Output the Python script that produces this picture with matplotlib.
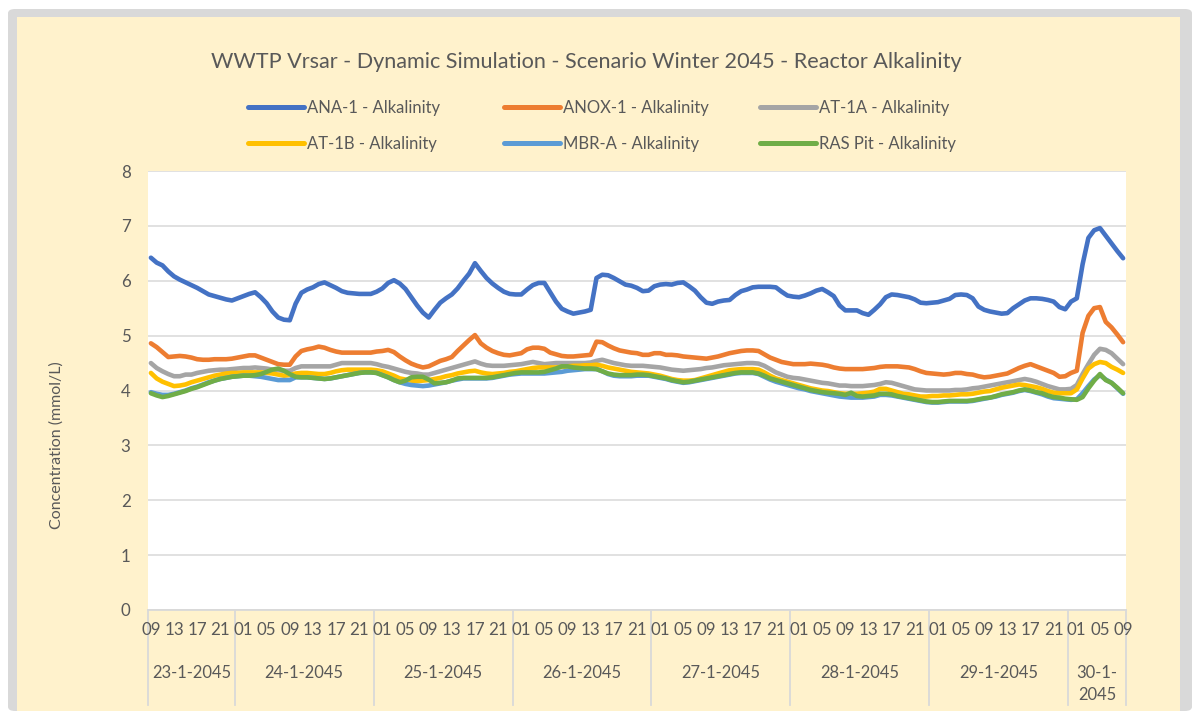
import matplotlib
matplotlib.use("Agg")
import matplotlib.pyplot as plt
from matplotlib.patches import FancyBboxPatch, Rectangle
from matplotlib.lines import Line2D
from matplotlib.transforms import blended_transform_factory
import numpy as np

# ---- data -----------------------------------------------------------------
title = "WWTP Vrsar - Dynamic Simulation - Scenario Winter 2045 - Reactor Alkalinity"
y_label = "Concentration (mmol/L)"

day_labels = ["23-1-2045", "24-1-2045", "25-1-2045", "26-1-2045",
              "27-1-2045", "28-1-2045", "29-1-2045", "30-1-\n2045"]
day_lengths = [15, 24, 24, 24, 24, 24, 24, 10]   # hourly samples per day
hour_labels = (["09", "13", "17", "21"]
               + ["01", "05", "09", "13", "17", "21"] * 6
               + ["01", "05", "09"])

ana1 = [6.42, 6.33, 6.28, 6.17, 6.08, 6.02, 5.97, 5.92, 5.87, 5.81, 5.75, 5.72, 5.69, 5.66, 5.64,
        5.68, 5.72, 5.76, 5.79, 5.70, 5.59, 5.44, 5.33, 5.29, 5.28, 5.58, 5.78, 5.84, 5.88, 5.94,
        5.97, 5.92, 5.87, 5.81, 5.78, 5.77, 5.76, 5.76, 5.76,
        5.80, 5.86, 5.96, 6.01, 5.95, 5.85, 5.70, 5.55, 5.42, 5.33, 5.47, 5.60, 5.68, 5.75, 5.86,
        6.00, 6.13, 6.32, 6.18, 6.05, 5.95, 5.87, 5.80, 5.76,
        5.75, 5.75, 5.84, 5.92, 5.96, 5.96, 5.79, 5.62, 5.49, 5.44, 5.40, 5.42, 5.44, 5.47, 6.05,
        6.11, 6.10, 6.05, 5.99, 5.93, 5.91, 5.87,
        5.81, 5.82, 5.90, 5.93, 5.94, 5.93, 5.96, 5.97, 5.90, 5.82, 5.70, 5.60, 5.58, 5.62, 5.64,
        5.65, 5.74, 5.81, 5.84, 5.88, 5.89, 5.89, 5.89, 5.88,
        5.80, 5.73, 5.71, 5.70, 5.73, 5.77, 5.82, 5.85, 5.79, 5.72, 5.55, 5.46, 5.46, 5.46, 5.41,
        5.38, 5.47, 5.57, 5.70, 5.75, 5.74, 5.72, 5.70, 5.66,
        5.60, 5.59, 5.60, 5.61, 5.64, 5.67, 5.74, 5.75, 5.74, 5.68, 5.53, 5.47, 5.44, 5.42, 5.40,
        5.41, 5.50, 5.57, 5.64, 5.68, 5.68, 5.67, 5.65, 5.62,
        5.52, 5.48, 5.62, 5.68, 6.30, 6.78, 6.92, 6.96, 6.82, 6.68, 6.54, 6.41]

anox1 = [4.86, 4.79, 4.70, 4.61, 4.62, 4.63, 4.62, 4.60, 4.57, 4.56, 4.56, 4.57, 4.57, 4.57, 4.58,
         4.60, 4.62, 4.64, 4.64, 4.60, 4.56, 4.52, 4.48, 4.47, 4.47, 4.62, 4.72, 4.75, 4.77, 4.80,
         4.78, 4.74, 4.71, 4.69, 4.69, 4.69, 4.69, 4.69, 4.69,
         4.71, 4.72, 4.74, 4.70, 4.62, 4.55, 4.49, 4.45, 4.42, 4.44, 4.49, 4.54, 4.57, 4.61, 4.72,
         4.82, 4.92, 5.01, 4.86, 4.78, 4.72, 4.68, 4.65, 4.64,
         4.66, 4.68, 4.75, 4.78, 4.78, 4.76, 4.69, 4.66, 4.63, 4.62, 4.62, 4.63, 4.64, 4.65, 4.89,
         4.88, 4.82, 4.77, 4.73, 4.71, 4.69, 4.68,
         4.65, 4.65, 4.68, 4.68, 4.65, 4.65, 4.64, 4.62, 4.61, 4.60, 4.59, 4.58, 4.60, 4.62, 4.65,
         4.68, 4.70, 4.72, 4.73, 4.73, 4.72, 4.66, 4.60, 4.56,
         4.52, 4.50, 4.48, 4.48, 4.48, 4.49, 4.48, 4.47, 4.45, 4.42, 4.40, 4.39, 4.39, 4.39, 4.39,
         4.40, 4.41, 4.43, 4.44, 4.44, 4.44, 4.43, 4.42, 4.39,
         4.35, 4.32, 4.31, 4.30, 4.29, 4.30, 4.32, 4.32, 4.30, 4.29, 4.26, 4.24, 4.25, 4.27, 4.29,
         4.31, 4.36, 4.41, 4.45, 4.48, 4.44, 4.40, 4.36, 4.32,
         4.25, 4.26, 4.32, 4.36, 5.05, 5.36, 5.50, 5.52, 5.25, 5.15, 5.02, 4.88]

at1a = [4.50, 4.41, 4.35, 4.30, 4.26, 4.26, 4.29, 4.29, 4.32, 4.34, 4.36, 4.37, 4.38, 4.38, 4.39,
        4.40, 4.41, 4.41, 4.42, 4.41, 4.40, 4.38, 4.37, 4.36, 4.36, 4.41, 4.44, 4.44, 4.44, 4.44,
        4.44, 4.44, 4.47, 4.50, 4.50, 4.50, 4.50, 4.50, 4.50,
        4.48, 4.45, 4.43, 4.40, 4.37, 4.34, 4.32, 4.31, 4.29, 4.29, 4.32, 4.35, 4.38, 4.41, 4.44,
        4.47, 4.50, 4.53, 4.49, 4.46, 4.45, 4.45, 4.45, 4.46,
        4.47, 4.48, 4.50, 4.52, 4.50, 4.48, 4.49, 4.50, 4.50, 4.50, 4.50, 4.50, 4.50, 4.51, 4.54,
        4.56, 4.53, 4.50, 4.48, 4.46, 4.45, 4.45,
        4.45, 4.44, 4.43, 4.42, 4.40, 4.38, 4.37, 4.36, 4.37, 4.38, 4.39, 4.41, 4.42, 4.44, 4.46,
        4.47, 4.48, 4.49, 4.50, 4.50, 4.49, 4.45, 4.39, 4.33,
        4.29, 4.25, 4.23, 4.22, 4.20, 4.18, 4.16, 4.14, 4.13, 4.11, 4.09, 4.09, 4.08, 4.08, 4.08,
        4.09, 4.10, 4.12, 4.15, 4.14, 4.11, 4.08, 4.05, 4.02,
        4.01, 4.00, 4.00, 4.00, 4.00, 4.00, 4.01, 4.01, 4.02, 4.04, 4.05, 4.07, 4.09, 4.11, 4.13,
        4.15, 4.17, 4.19, 4.21, 4.19, 4.16, 4.12, 4.08, 4.05,
        4.02, 4.02, 4.03, 4.10, 4.30, 4.48, 4.65, 4.76, 4.74, 4.68, 4.58, 4.48]

at1b = [4.32, 4.22, 4.16, 4.12, 4.08, 4.09, 4.11, 4.15, 4.18, 4.21, 4.24, 4.27, 4.29, 4.31, 4.32,
        4.32, 4.33, 4.33, 4.33, 4.33, 4.32, 4.31, 4.29, 4.27, 4.28, 4.31, 4.32, 4.32, 4.31, 4.30,
        4.30, 4.32, 4.35, 4.37, 4.38, 4.38, 4.38, 4.38, 4.38,
        4.37, 4.35, 4.31, 4.27, 4.22, 4.20, 4.18, 4.17, 4.18, 4.19, 4.21, 4.23, 4.26, 4.28, 4.31,
        4.33, 4.35, 4.36, 4.33, 4.31, 4.30, 4.31, 4.32, 4.34,
        4.35, 4.37, 4.39, 4.41, 4.42, 4.42, 4.42, 4.42, 4.43, 4.44, 4.45, 4.45, 4.46, 4.46, 4.47,
        4.45, 4.42, 4.40, 4.38, 4.36, 4.34, 4.33,
        4.32, 4.31, 4.29, 4.27, 4.24, 4.21, 4.19, 4.18, 4.18, 4.19, 4.22, 4.25, 4.28, 4.31, 4.34,
        4.37, 4.38, 4.39, 4.39, 4.39, 4.38, 4.33, 4.27, 4.22,
        4.19, 4.16, 4.13, 4.10, 4.07, 4.04, 4.02, 4.00, 3.99, 3.97, 3.95, 3.94, 3.94, 3.94, 3.95,
        3.96, 3.98, 4.03, 4.03, 4.00, 3.97, 3.94, 3.93, 3.91,
        3.89, 3.89, 3.90, 3.90, 3.91, 3.91, 3.92, 3.93, 3.93, 3.94, 3.96, 3.98, 3.99, 4.02, 4.05,
        4.07, 4.09, 4.11, 4.10, 4.08, 4.06, 4.03, 3.99, 3.96,
        3.95, 3.95, 3.95, 4.02, 4.22, 4.40, 4.48, 4.52, 4.50, 4.43, 4.38, 4.32]

mbra = [3.97, 3.94, 3.92, 3.92, 3.94, 3.97, 4.00, 4.04, 4.07, 4.11, 4.15, 4.18, 4.21, 4.23, 4.25,
        4.26, 4.27, 4.27, 4.26, 4.25, 4.23, 4.21, 4.19, 4.19, 4.19, 4.24, 4.24, 4.24, 4.23, 4.22,
        4.21, 4.22, 4.24, 4.26, 4.28, 4.30, 4.32, 4.33, 4.33,
        4.32, 4.28, 4.24, 4.19, 4.15, 4.12, 4.10, 4.09, 4.08, 4.09, 4.11, 4.13, 4.15, 4.18, 4.20,
        4.22, 4.22, 4.22, 4.22, 4.22, 4.23, 4.25, 4.27, 4.29,
        4.30, 4.31, 4.31, 4.31, 4.31, 4.31, 4.32, 4.33, 4.34, 4.36, 4.37, 4.38, 4.39, 4.39, 4.39,
        4.35, 4.30, 4.27, 4.26, 4.26, 4.26, 4.27,
        4.27, 4.27, 4.25, 4.23, 4.21, 4.18, 4.16, 4.14, 4.15, 4.17, 4.19, 4.21, 4.23, 4.25, 4.27,
        4.29, 4.31, 4.32, 4.32, 4.32, 4.30, 4.25, 4.20, 4.16,
        4.13, 4.10, 4.07, 4.04, 4.02, 3.99, 3.97, 3.95, 3.93, 3.91, 3.89, 3.88, 3.87, 3.87, 3.87,
        3.88, 3.89, 3.92, 3.92, 3.91, 3.89, 3.87, 3.85, 3.83,
        3.81, 3.79, 3.78, 3.78, 3.79, 3.80, 3.80, 3.80, 3.80, 3.81, 3.83, 3.85, 3.87, 3.89, 3.92,
        3.94, 3.96, 3.99, 4.01, 3.99, 3.96, 3.93, 3.89, 3.86,
        3.85, 3.84, 3.83, 3.84, 3.95, 4.08, 4.20, 4.28, 4.20, 4.14, 4.04, 3.94]

ras_pit = [3.95, 3.91, 3.88, 3.90, 3.93, 3.96, 3.99, 4.03, 4.06, 4.10, 4.14, 4.18, 4.21, 4.23, 4.25,
           4.26, 4.27, 4.27, 4.28, 4.30, 4.34, 4.38, 4.40, 4.36, 4.30, 4.25, 4.24, 4.24, 4.23, 4.22,
           4.21, 4.22, 4.24, 4.26, 4.28, 4.30, 4.32, 4.33, 4.33,
           4.32, 4.28, 4.24, 4.19, 4.15, 4.18, 4.24, 4.25, 4.25, 4.20, 4.13, 4.14, 4.15, 4.18, 4.22,
           4.23, 4.23, 4.23, 4.23, 4.23, 4.24, 4.26, 4.28, 4.30,
           4.32, 4.33, 4.33, 4.33, 4.33, 4.34, 4.37, 4.40, 4.44, 4.44, 4.42, 4.41, 4.40, 4.40, 4.39,
           4.35, 4.31, 4.29, 4.28, 4.28, 4.28, 4.29,
           4.29, 4.28, 4.26, 4.24, 4.22, 4.19, 4.17, 4.15, 4.16, 4.18, 4.20, 4.22, 4.24, 4.26, 4.28,
           4.30, 4.32, 4.33, 4.33, 4.33, 4.31, 4.27, 4.22, 4.19,
           4.16, 4.13, 4.10, 4.07, 4.04, 4.01, 3.99, 3.97, 3.96, 3.95, 3.94, 3.92, 3.96, 3.90, 3.89,
           3.90, 3.91, 3.94, 3.94, 3.93, 3.90, 3.88, 3.86, 3.84,
           3.82, 3.80, 3.79, 3.79, 3.80, 3.81, 3.81, 3.81, 3.81, 3.82, 3.84, 3.86, 3.87, 3.90, 3.93,
           3.95, 3.97, 4.00, 4.02, 4.00, 3.97, 3.95, 3.91, 3.88,
           3.87, 3.85, 3.84, 3.83, 3.88, 4.04, 4.18, 4.30, 4.19, 4.14, 4.05, 3.95]

series = [
    ("ANA-1 - Alkalinity", ana1, "#4472C4"),
    ("ANOX-1 - Alkalinity", anox1, "#ED7D31"),
    ("AT-1A - Alkalinity", at1a, "#A5A5A5"),
    ("AT-1B - Alkalinity", at1b, "#FFC000"),
    ("MBR-A - Alkalinity", mbra, "#5B9BD5"),
    ("RAS Pit - Alkalinity", ras_pit, "#70AD47"),
]

# ---- style ----------------------------------------------------------------
W, H, DPI = 1192, 711, 100
TEXT = "#595959"
GRID = "#D9D9D9"
CREAM = "#FFF2CC"
FONT = ["Lato", "DejaVu Sans"]
plt.rcParams["font.family"] = FONT

FS_TITLE = 15.6
FS_LEGEND = 12.0
FS_TICK = 12.2
FS_DAY = 11.9
FS_YLABEL = 11.5


def fy(py):
    """Pixel row (from the top) to figure fraction."""
    return 1 - py / H


fig = plt.figure(figsize=(W / DPI, H / DPI), dpi=DPI, facecolor="white")

# chart frame: grey border and cream chart area
fig.patches.append(FancyBboxPatch((8 / W, 0), (W - 8) / W, (H - 9) / H,
                                  boxstyle="round,pad=0,rounding_size=0.006",
                                  transform=fig.transFigure, facecolor=GRID,
                                  edgecolor="none", zorder=-3))
fig.patches.append(Rectangle((17 / W, 0), (1180 - 17) / W, (H - 17) / H,
                             transform=fig.transFigure, facecolor=CREAM,
                             edgecolor="none", zorder=-2))

# plot area
x0, x1, ytop, ybot = 148, 1126, 171, 610
ax = fig.add_axes([x0 / W, fy(ybot), (x1 - x0) / W, (ybot - ytop) / H])
ax.set_facecolor("white")

n = sum(day_lengths)
x = np.arange(n)
for label, values, color in series:
    ax.plot(x, values, color=color, lw=3.3, solid_capstyle="round",
            solid_joinstyle="round", label=label, zorder=3)

ax.set_xlim(-0.5, n - 0.5)
ax.set_ylim(0, 8)
ax.set_yticks(range(0, 9))
ax.grid(axis="y", color=GRID, lw=1.1, zorder=0)
for s in ax.spines.values():
    s.set_visible(False)
ax.tick_params(axis="y", length=0, pad=12.5, labelsize=FS_TICK, labelcolor=TEXT)
ax.set_xticks(np.arange(0, n, 4))
ax.set_xticklabels(hour_labels)
ax.tick_params(axis="x", length=0, pad=8.5, labelsize=FS_TICK, labelcolor=TEXT)

# axis title
fig.text(57 / W, fy(445), y_label, rotation=90, ha="center", va="center",
         fontsize=FS_YLABEL, color=TEXT)

# day groups below the hour labels
trans = blended_transform_factory(ax.transData, ax.transAxes)
h_ax = ybot - ytop
sep_bottom = -(705 - ybot) / h_ax
edges = np.concatenate([[0], np.cumsum(day_lengths)]) - 0.5
for e in edges:
    ax.add_line(Line2D([e, e], [0, sep_bottom], transform=trans, color=GRID,
                       lw=1.3, clip_on=False, zorder=1))
ax.add_line(Line2D([edges[0], edges[-1]], [0, 0], transform=trans, color=GRID,
                   lw=1.3, clip_on=False, zorder=1))
for lab, a, b in zip(day_labels, edges[:-1], edges[1:]):
    for j, part in enumerate(lab.split("\n")):
        base = 677.5 + 22.5 * j
        ax.text((a + b) / 2, -(base - ybot) / h_ax, part, transform=trans,
                ha="center", va="baseline", fontsize=FS_DAY, color=TEXT)

# title
fig.text(586 / W, fy(68), title, ha="center", va="baseline",
         fontsize=FS_TITLE, color=TEXT)

# legend: three columns, two rows
col_x = [248, 504, 760]
row_y = [106.5, 143]
for k, (label, values, color) in enumerate(series):
    cx, cy = col_x[k % 3], row_y[k // 3]
    fig.add_artist(Line2D([cx / W, (cx + 56) / W], [fy(cy), fy(cy)],
                          transform=fig.transFigure, color=color, lw=3.6,
                          solid_capstyle="round"))
    fig.text((cx + 59) / W, fy(cy + 6), label, ha="left", va="baseline",
             fontsize=FS_LEGEND, color=TEXT)

fig.savefig("out.png", dpi=DPI, facecolor=fig.get_facecolor())
